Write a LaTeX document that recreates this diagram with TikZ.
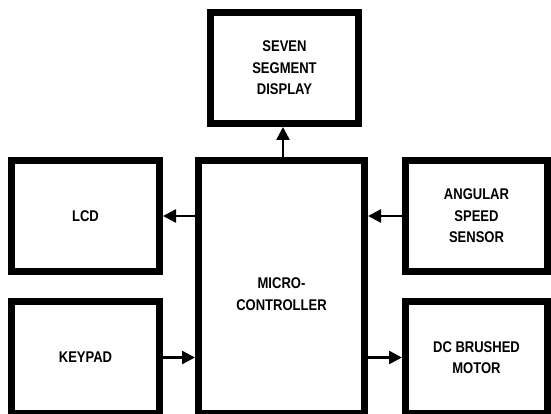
\documentclass[tikz,border=0pt]{standalone}
\usepackage{fontspec}
\newfontfamily\lab{Liberation Sans}[FakeStretch=0.84]
\usetikzlibrary{arrows.meta}
\begin{document}
\begin{tikzpicture}[x=1pt,y=-1pt,
  blk/.style={draw=black,line width=7pt,fill=white,inner sep=0pt,align=center,
    font=\lab\bfseries\fontsize{15.5}{21.5}\selectfont},
  txt/.style={inner sep=0pt,align=center,font=\lab\bfseries\fontsize{15.5}{21.5}\selectfont},
  arr/.style={line width=2.5pt,-{Triangle[length=13pt,width=13pt]}}]
\useasboundingbox[fill=white] (0,0) rectangle (551,414);
\node[blk,minimum width=148pt,minimum height=111pt] (seven) at (284.5,68) {SEVEN\\SEGMENT\\DISPLAY};
\node[blk,minimum width=166pt,minimum height=253pt] (micro) at (281.5,287) {};
\node[txt] (microtxt) at (281.5,294) {MICRO-\\CONTROLLER};
\node[blk,minimum width=148pt,minimum height=111pt] (lcd) at (85.5,216) {LCD};
\node[blk,minimum width=142pt,minimum height=111pt] (ang) at (476.5,216) {ANGULAR\\SPEED\\SENSOR};
\node[blk,minimum width=148pt,minimum height=112pt] (key) at (85.5,357.5) {KEYPAD};
\node[blk,minimum width=142pt,minimum height=112pt] (dc) at (476.5,357.5) {DC BRUSHED\\MOTOR};
\coordinate (up) at (283,0);
\draw[arr] (up |- micro.north) -- (up |- seven.south);
\draw[arr] (micro.west |- lcd.east) -- (lcd.east);
\draw[arr] (ang.west) -- (micro.east |- ang.west);
\draw[arr] (key.east) -- (micro.west |- key.east);
\draw[arr] (micro.east |- dc.west) -- (dc.west);
\end{tikzpicture}
\end{document}
